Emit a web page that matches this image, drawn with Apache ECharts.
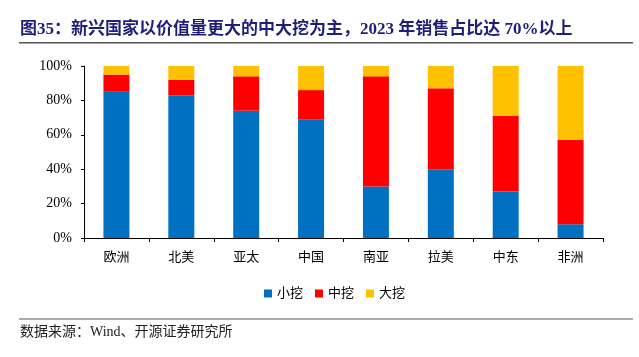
<!DOCTYPE html>
<html><head><meta charset="utf-8">
<script src="https://cdn.jsdelivr.net/npm/echarts@6/dist/echarts.min.js"></script>
<style>html,body{margin:0;padding:0;background:#fff}#c{width:639px;height:357px}</style>
</head><body><div id="c"></div>
<script>
const categories = ['欧洲','北美','亚太','中国','南亚','拉美','中东','非洲'];
const small = [85, 83, 74, 69, 30, 40, 27, 8];
const medium = [10, 9, 20, 17, 64, 47, 44, 49];
const large = [5, 8, 6, 14, 6, 13, 29, 43];
const seriesNames = ['小挖','中挖','大挖'];
const yTicks = [0, 20, 40, 60, 80, 100];

const cjk = '"Liberation Serif","Noto Sans CJK SC",serif';
const chart = echarts.init(document.getElementById('c'), null, {renderer:'canvas'});
const mk = (name, data, color) => ({
  name, type:'bar', stack:'a', data, barWidth:26,
  itemStyle:{color}, emphasis:{disabled:true}
});
chart.setOption({
  animation:false,
  grid:{left:84, right:36, top:66, bottom:119},
  legend:{
    data:seriesNames, top:282, left:259, itemWidth:8, itemHeight:8, itemGap:12,
    icon:'rect', textStyle:{fontFamily:cjk, fontSize:13, color:'#000'}
  },
  xAxis:{
    type:'category', data:categories,
    axisLine:{lineStyle:{color:'#000', width:1}},
    axisTick:{show:true, alignWithLabel:false, length:4, inside:false, lineStyle:{color:'#000'}},
    axisLabel:{fontFamily:cjk, fontSize:13, color:'#000', margin:13}
  },
  yAxis:{
    type:'value', min:yTicks[0], max:yTicks[yTicks.length-1], interval:20,
    axisLine:{show:true, lineStyle:{color:'#000'}},
    axisTick:{show:true, length:3, lineStyle:{color:'#000'}},
    splitLine:{show:false},
    axisLabel:{fontFamily:cjk, fontSize:14, color:'#000', formatter:v=>v+'%', margin:12}
  },
  series:[mk(seriesNames[0], small, '#0070C0'), mk(seriesNames[1], medium, '#FF0000'), mk(seriesNames[2], large, '#FFC000')],
  graphic:[
    {type:'text', left:20, top:21, style:{text:'图35：新兴国家以价值量更大的中大挖为主，2023 年销售占比达 70%以上', fill:'#1F1F7A', font:'bold 17px "Liberation Serif","Noto Sans CJK SC",serif'}},
    {type:'rect', shape:{x:19, y:42, width:614, height:1.5}, style:{fill:'#555'}},
    {type:'rect', shape:{x:19, y:318.5, width:614, height:1}, style:{fill:'#555'}},
    {type:'text', left:20, top:325, style:{text:'数据来源：Wind、开源证券研究所', fill:'#222', font:'14px "Liberation Serif","Noto Sans CJK SC",serif'}}
  ]
});
</script></body></html>
